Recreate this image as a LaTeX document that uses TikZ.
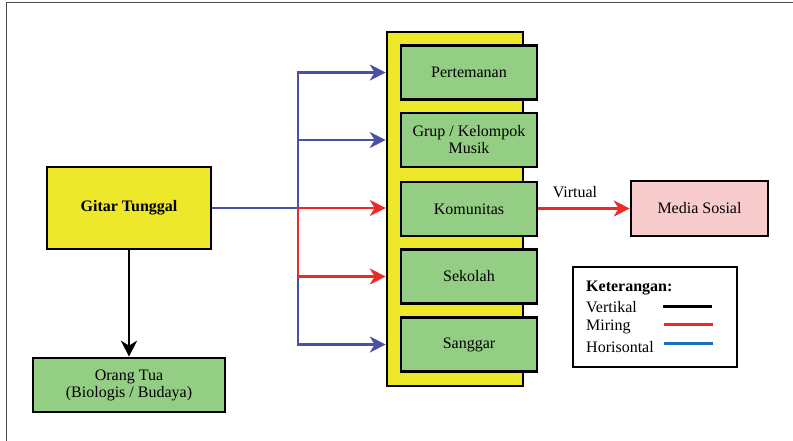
\documentclass[tikz,border=0pt]{standalone}
\usepackage{fontspec}
\setmainfont{Liberation Serif}
\usetikzlibrary{arrows.meta}

\definecolor{boxyellow}{HTML}{EEE82A}
\definecolor{boxgreen}{HTML}{94CD84}
\definecolor{boxpink}{HTML}{F8CCCC}
\definecolor{linkblue}{HTML}{4A4FA8}
\definecolor{linkred}{HTML}{EE2A24}
\definecolor{keyblue}{HTML}{1E6EC0}

\tikzset{
  base/.style={draw=black, line width=2.6pt, align=center, inner sep=2pt,
    font=\fontsize{16}{17}\selectfont},
  yellowbox/.style={base, fill=boxyellow},
  greenbox/.style={base, fill=boxgreen, minimum width=136pt, minimum height=54pt},
  pinkbox/.style={base, fill=boxpink},
  tip/.style={-{Stealth[length=16pt,width=16pt,inset=5pt]}},
  bluelink/.style={draw=linkblue, line width=2.3pt},
  redlink/.style={draw=linkred, line width=2.3pt},
  blacklink/.style={draw=black, line width=2.3pt},
  keytext/.style={anchor=west, inner sep=0pt, font=\fontsize{16}{17}\selectfont},
  keyline/.style={line width=3pt}
}

\begin{document}
\begin{tikzpicture}[x=1pt, y=-1pt]
  \useasboundingbox (0,0) rectangle (793,441);
  % page frame
  \draw[black!70, line width=1pt] (6,445) -- (6,3) -- (800,3);

  % source and parent
  \node[yellowbox, minimum width=164pt, minimum height=82pt] (gitar) at (129,208)
    {\bfseries Gitar Tunggal};
  \node[base, fill=boxgreen, minimum width=192pt, minimum height=54pt] (ortu) at (129,385)
    {Orang Tua\\(Biologis / Budaya)};

  % stack of environments
  \node[yellowbox, minimum width=136pt, minimum height=354pt] (stack) at (455,209) {};
  \node[greenbox] (teman) at (469,72.5) {Pertemanan};
  \node[greenbox] (grup) at (469,140) {Grup / Kelompok\\Musik};
  \node[greenbox] (komunitas) at (469,209) {Komunitas};
  \node[greenbox] (sekolah) at (469,276.5) {Sekolah};
  \node[greenbox] (sanggar) at (469,344.5) {Sanggar};

  \node[pinkbox, minimum width=137pt, minimum height=55pt] (medsos) at (699.5,208.5) {Media Sosial};

  % connectors
  \draw[blacklink, tip] (gitar.south) -- (ortu.north);
  \coordinate (split) at (298,208);
  \draw[bluelink] (gitar.east |- split) -- (split);
  \draw[bluelink, tip] (split) |- (stack.west |- teman.west);
  \draw[bluelink, tip] (split) |- (stack.west |- grup.west);
  \draw[bluelink, tip] (split) |- (stack.west |- sanggar.west);
  \draw[redlink, tip] (split) -- (stack.west |- split);
  \draw[redlink, tip] (split) |- (stack.west |- sekolah.west);
  \draw[redlink, tip] (komunitas.east |- medsos.west) -- node[above=10pt, xshift=-9pt, black,
    font=\fontsize{16}{17}\selectfont, inner sep=0pt] {Virtual} (medsos.west);

  % key
  \node[draw=black, line width=2.4pt, minimum width=164pt, minimum height=100pt] (key) at (655,317) {};
  \node[keytext] (keyhead) at (586,288) {\bfseries Keterangan:};
  \node[keytext] (kv) at (586,307) {Vertikal};
  \node[keytext] (km) at (586,327) {Miring};
  \node[keytext] (kh) at (586,347) {Horisontal};
  \coordinate (kva) at (663,306); \coordinate (kvb) at (712,306);
  \coordinate (kma) at (664,324); \coordinate (kmb) at (713,324);
  \coordinate (kha) at (664,343); \coordinate (khb) at (713,343);
  \draw[keyline, black] (kva) -- (kvb);
  \draw[keyline, linkred] (kma) -- (kmb);
  \draw[keyline, keyblue] (kha) -- (khb);
\end{tikzpicture}
\end{document}
